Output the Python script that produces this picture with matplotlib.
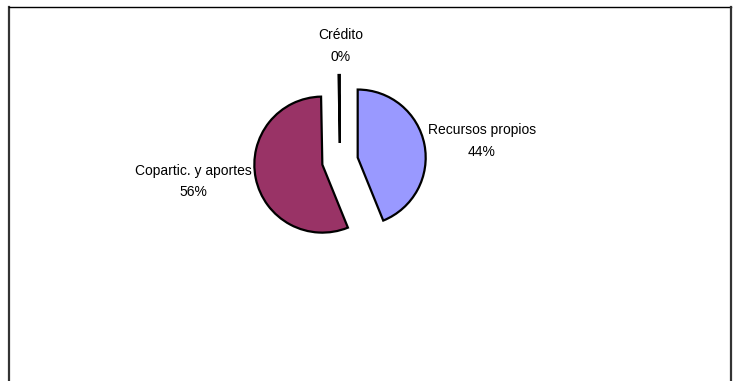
import matplotlib
matplotlib.use("Agg")
import matplotlib.pyplot as plt
from matplotlib.lines import Line2D

# Funding sources (percent of total)
categories = ["Recursos propios", "Copartic. y aportes", "Crédito"]
shares = [44.0, 56.0, 0.3]
colors = ["#9999FF", "#993366", "#FFFFFF"]

W, H, DPI = 734, 381, 100
fig = plt.figure(figsize=(W / DPI, H / DPI), dpi=DPI)
plt.rcParams["font.family"] = ["Liberation Sans", "DejaVu Sans"]

def px(x, y):
    return x / W, 1 - y / H

# pie axes: centre (340, 161) px, radius 68 px
cx, cy, r = 340, 161, 68
ax_w, ax_h = 2 * r / W, 2 * r / H
ax = fig.add_axes([cx / W - ax_w / 2, 1 - cy / H - ax_h / 2, ax_w, ax_h])

wedges, _ = ax.pie(
    shares,
    colors=colors,
    startangle=90,
    counterclock=False,
    explode=[0.265] * len(shares),
    radius=1.0,
    center=(0, 0),
    wedgeprops=dict(edgecolor="black", linewidth=1.6),
)
ax.set_xlim(-1, 1)
ax.set_ylim(-1, 1)
ax.axis("off")
for w in wedges:
    w.set_clip_on(False)
# the tiny credit slice shows as a dark sliver
wedges[2].set_facecolor("black")

# labels: name and rounded share
label_pos = {
    "Recursos propios": (482, 130, 152),
    "Copartic. y aportes": (193, 171, 192),
    "Crédito": (341, 35, 57),
}
for name, val in zip(categories, shares):
    x, y1, y2 = label_pos[name]
    fig.text(*px(x, y1), name, ha="center", va="center", fontsize=10, color="black")
    fig.text(*px(x, y2), f"{round(val / sum(shares) * 100):.0f}%", ha="center",
             va="center", fontsize=10, color="black")

# chart frame (open at the bottom)
fig.add_artist(Line2D([9.2 / W, 9.2 / W], [0, 1 - 6.5 / H], transform=fig.transFigure,
                      color="#333333", linewidth=1.6))
fig.add_artist(Line2D([8.5 / W, 731 / W], [1 - 6.5 / H, 1 - 6.5 / H],
                      transform=fig.transFigure, color="black", linewidth=1.0))
fig.add_artist(Line2D([730.5 / W, 730.5 / W], [0, 1 - 6.5 / H], transform=fig.transFigure,
                      color="#333333", linewidth=1.6))

fig.savefig("out.png", dpi=DPI, facecolor="white")
